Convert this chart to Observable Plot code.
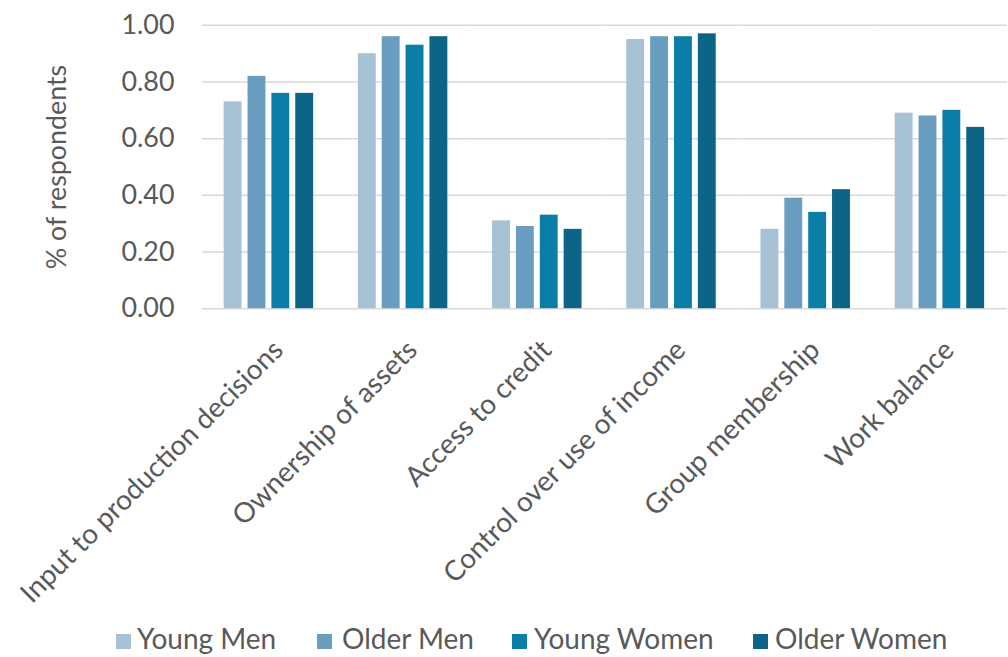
<!DOCTYPE html>
<html>
<head>
<meta charset="utf-8">
<script src="https://cdn.jsdelivr.net/npm/d3@7"></script>
<script src="https://cdn.jsdelivr.net/npm/@observablehq/plot@0.6"></script>
<style>
  html, body { margin: 0; padding: 0; background: #ffffff; }
  #wrap { position: relative; width: 1008px; height: 657px; overflow: hidden; font-family: Lato, "Open Sans", sans-serif; color: #595959; }
  #chart { position: absolute; left: 0; top: 0; }
  #legend { position: absolute; left: 0; top: 622px; width: 1008px; height: 34px; }
  .item { position: absolute; top: 0; white-space: nowrap; font-size: 28px; line-height: 32px; }
  .sw { position: absolute; top: 12px; width: 15px; height: 15px; }
</style>
</head>
<body>
<div id="wrap">
  <div id="chart"></div>
  <div id="legend"></div>
</div>
<script>
// ---- data ----
const categories = [
  "Input to production decisions",
  "Ownership of assets",
  "Access to credit",
  "Control over use of income",
  "Group membership",
  "Work balance"
];
const series = ["Young Men", "Older Men", "Young Women", "Older Women"];
const youngMen   = [0.73, 0.90, 0.31, 0.95, 0.28, 0.69];
const olderMen   = [0.82, 0.96, 0.29, 0.96, 0.39, 0.68];
const youngWomen = [0.76, 0.93, 0.33, 0.96, 0.34, 0.70];
const olderWomen = [0.76, 0.96, 0.28, 0.97, 0.42, 0.64];
const yTicks = [0, 0.2, 0.4, 0.6, 0.8, 1.0];
const colors = ["#a8c2d5", "#6a9ec1", "#0b7ea7", "#0c6586"];

// ---- table ----
const seriesValues = [youngMen, olderMen, youngWomen, olderWomen];
const data = categories.flatMap((c, i) =>
  series.map((s, j) => ({ category: c, series: s, value: seriesValues[j][i] }))
);

const chart = Plot.plot({
  width: 1014,
  height: 615,
  marginLeft: 202,
  marginRight: 0,
  marginTop: 25,
  marginBottom: 305,
  style: { fontFamily: "Lato, 'Open Sans', sans-serif", fontSize: "26px", color: "#595959", background: "#ffffff" },
  fx: { domain: categories, padding: 0, label: null, axis: null },
  x: { domain: series, paddingInner: 0.245, paddingOuter: 0.88, axis: null },
  y: { domain: [0, 1], axis: null },
  color: { domain: series, range: colors },
  marks: [
    Plot.gridY(yTicks, { stroke: "#d9d9d9", strokeOpacity: 1, strokeWidth: 1.5 }),
    Plot.barY(data, { fx: "category", x: "series", y: "value", fill: "series" }),
    Plot.axisY({
      ticks: yTicks,
      tickSize: 0,
      tickPadding: 28,
      tickFormat: d3.format(".2f"),
      label: "% of respondents",
      labelAnchor: "center",
      labelArrow: "none",
      labelOffset: 156,
      fontSize: 27
    }),
    Plot.axisFx({
      anchor: "bottom",
      tickSize: 0,
      tickPadding: 37,
      tickRotate: -45,
      label: null,
      fontSize: 28,
      dx: 9
    })
  ]
});
document.getElementById("chart").appendChild(chart);

// ---- legend ----
const legendPos = [[116, 137], [317, 342], [512, 534], [753, 775]];
const legend = document.getElementById("legend");
series.forEach((s, i) => {
  const sw = document.createElement("div");
  sw.className = "sw";
  sw.style.left = legendPos[i][0] + "px";
  sw.style.background = colors[i];
  legend.appendChild(sw);
  const t = document.createElement("div");
  t.className = "item";
  t.style.left = legendPos[i][1] + "px";
  t.textContent = s;
  legend.appendChild(t);
});
</script>
</body>
</html>
